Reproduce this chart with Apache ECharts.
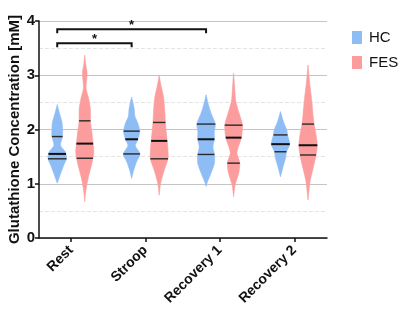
<!DOCTYPE html>
<html>
<head>
<meta charset="utf-8">
<script src="https://cdn.jsdelivr.net/npm/echarts@6/dist/echarts.min.js"></script>
<style>
  html, body { margin: 0; padding: 0; background: #fff; }
  #chart { width: 400px; height: 315px; }
</style>
</head>
<body>
<div id="chart"></div>
<script>
// categories along x
var categories = ['Rest', 'Stroop', 'Recovery 1', 'Recovery 2'];
var groups = ['HC', 'FES'];

// violin outlines: [value, relative density]
var hcProfiles = [
  [[2.46,0],[2.35,1.5],[2.25,3],[2.14,4.7],[2.02,5.3],[1.87,5.3],[1.71,3.3],[1.59,8],[1.55,8.7],[1.46,9.2],[1.35,6.7],[1.22,4],[1.10,1.7],[1.01,0]],
  [[2.60,0],[2.48,1.5],[2.36,2.7],[2.24,3.3],[2.11,6.3],[1.97,8],[1.82,6.3],[1.70,3.7],[1.55,8.3],[1.41,5],[1.25,2],[1.10,0]],
  [[2.64,0],[2.48,2],[2.30,5],[2.10,9.2],[1.96,8.2],[1.82,8.3],[1.68,6.8],[1.54,8.3],[1.38,8.3],[1.19,4.8],[1.04,1.5],[0.95,0]],
  [[2.33,0],[2.14,3],[1.99,6.3],[1.90,7],[1.73,9.2],[1.59,6],[1.47,5],[1.31,2.5],[1.13,0]]
];
var fesProfiles = [
  [[3.37,0],[3.2,1],[3.04,2.3],[2.76,1.3],[2.58,3.7],[2.39,5.5],[2.14,5.7],[1.96,7],[1.74,8.3],[1.59,9],[1.48,8.3],[1.28,5.8],[1.10,3.3],[0.92,1.5],[0.80,0.6],[0.67,0]],
  [[3.0,0],[2.82,1.7],[2.60,4.3],[2.36,5.5],[2.13,6.2],[1.96,7],[1.79,8],[1.62,8.7],[1.46,8.8],[1.25,5],[1.04,1.8],[0.90,0.6],[0.79,0]],
  [[3.04,0],[2.79,1],[2.54,2],[2.36,4.5],[2.21,7],[2.08,8.8],[1.85,7.8],[1.68,4.7],[1.56,3.3],[1.38,6.2],[1.19,5],[0.98,1.5],[0.76,0]],
  [[3.19,0],[2.88,1.5],[2.57,3.5],[2.27,5],[2.10,6],[1.90,8],[1.71,9.2],[1.53,8],[1.28,5],[1.04,2],[0.70,0]]
];

// [Q1, median, Q3]
var hcQuartiles = [[1.46,1.55,1.87],[1.55,1.82,1.97],[1.54,1.82,2.10],[1.59,1.73,1.90]];
var fesQuartiles = [[1.47,1.74,2.16],[1.46,1.79,2.13],[1.38,1.85,2.08],[1.53,1.71,2.10]];

// significance brackets (HC): [from category, to category, bracket level]
var sigPairs = [[0, 2, 3.85], [0, 1, 3.59]];

var blue = '#8ebcf5';
var pink = '#fc9c9c';
var groupShift = 0.185;

function widthAt(prof, v) {
  for (var i = 0; i < prof.length - 1; i++) {
    var a = prof[i], b = prof[i + 1];
    if (v <= a[0] && v >= b[0]) {
      var t = (a[0] - v) / (a[0] - b[0]);
      return a[1] + (b[1] - a[1]) * t;
    }
  }
  return 0;
}

function violin(profiles, quartiles, shift, color) {
  return function (params, api) {
    var c = api.value(0);
    var prof = profiles[c];
    var unit = api.size([1, 0])[0];
    var k = unit * 0.0135;
    var cx = api.coord([c + shift, 0])[0];
    var right = [], left = [];
    prof.forEach(function (p) {
      var y = api.coord([0, p[0]])[1];
      right.push([cx + p[1] * k, y]);
      left.unshift([cx - p[1] * k, y]);
    });
    var children = [{
      type: 'polygon',
      shape: { points: right.concat(left), smooth: 0.25 },
      style: { fill: color, stroke: color, lineWidth: 0.6 }
    }];
    quartiles[c].forEach(function (q, j) {
      var w = widthAt(prof, q) * k;
      var y = api.coord([0, q])[1];
      children.push({
        type: 'line',
        shape: { x1: cx - w, y1: y, x2: cx + w, y2: y },
        style: { stroke: j === 1 ? '#111' : '#2a2a2a', lineWidth: j === 1 ? 2 : 1.4 }
      });
    });
    return { type: 'group', children: children };
  };
}

var chart = echarts.init(document.getElementById('chart'));

var option = {
  animation: false,
  textStyle: { fontFamily: 'Liberation Sans, Arial, sans-serif' },
  color: [blue, pink],
  legend: {
    data: groups,
    orient: 'vertical',
    left: 347,
    top: 25,
    icon: 'rect',
    itemWidth: 10,
    itemHeight: 13,
    itemGap: 10,
    textStyle: { fontSize: 15, color: '#111', padding: [0, 0, 0, 2] }
  },
  grid: { left: 39, right: 73, top: 21, bottom: 77, outerBoundsMode: 'none', containLabel: false },
  xAxis: {
    type: 'value',
    min: -0.43,
    max: 3.44,
    splitLine: { show: false },
    axisLine: { show: true, onZero: false, lineStyle: { color: '#111', width: 1.5 } },
    axisTick: { show: true, length: 4, customValues: [0, 1, 2, 3], lineStyle: { color: '#111', width: 1.5 } },
    axisLabel: {
      customValues: [0, 1, 2, 3],
      rotate: 45,
      margin: 10,
      fontSize: 14,
      fontWeight: 'bold',
      color: '#111',
      formatter: function (v) { return categories[v]; }
    }
  },
  yAxis: {
    type: 'value',
    min: 0,
    max: 4,
    interval: 1,
    name: 'Glutathione Concentration [mM]',
    nameLocation: 'middle',
    nameGap: 17,
    nameMoveOverlap: false,
    nameTextStyle: { fontSize: 15, fontWeight: 'bold', color: '#111' },
    axisLine: { show: true, onZero: false, lineStyle: { color: '#111', width: 1.5 } },
    axisTick: { show: true, length: 4, lineStyle: { color: '#111', width: 1.5 } },
    axisLabel: { fontSize: 15, fontWeight: 'bold', color: '#111', margin: 4 },
    splitLine: { show: true, lineStyle: { color: '#c4c4c4', width: 1 } },
    minorTick: { show: false, splitNumber: 2 },
    minorSplitLine: { show: true, lineStyle: { color: '#e4e4e4', type: 'dashed', width: 1 } }
  },
  series: [
    {
      name: 'HC',
      type: 'custom',
      itemStyle: { color: blue },
      data: categories.map(function (_, i) { return [i]; }),
      encode: { x: 0 },
      renderItem: violin(hcProfiles, hcQuartiles, -groupShift, blue)
    },
    {
      name: 'FES',
      type: 'custom',
      itemStyle: { color: pink },
      data: categories.map(function (_, i) { return [i]; }),
      encode: { x: 0 },
      renderItem: violin(fesProfiles, fesQuartiles, groupShift, pink)
    },
    {
      name: 'sig',
      type: 'custom',
      data: sigPairs,
      encode: { x: [0, 1], y: 2 },
      renderItem: function (params, api) {
        var p1 = api.coord([api.value(0) - groupShift, api.value(2)]);
        var p2 = api.coord([api.value(1) - groupShift, api.value(2)]);
        var drop = 4;
        return {
          type: 'group',
          children: [{
            type: 'polyline',
            shape: { points: [[p1[0], p1[1] + drop], [p1[0], p1[1]], [p2[0], p1[1]], [p2[0], p1[1] + drop]] },
            style: { stroke: '#111', lineWidth: 2, fill: null }
          }, {
            type: 'text',
            style: {
              text: '*',
              x: (p1[0] + p2[0]) / 2,
              y: p1[1] + 3,
              align: 'center',
              verticalAlign: 'bottom',
              fontSize: 13,
              fontWeight: 'bold',
              fill: '#111',
              fontFamily: 'Liberation Sans, Arial, sans-serif'
            }
          }]
        };
      }
    }
  ]
};

chart.setOption(option);
</script>
</body>
</html>
